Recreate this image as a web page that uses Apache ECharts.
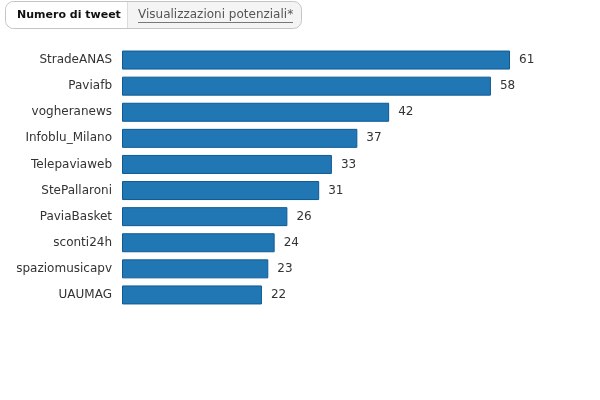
<!DOCTYPE html>
<html>
<head>
<meta charset="utf-8">
<script src="https://cdn.jsdelivr.net/npm/echarts@6/dist/echarts.min.js"></script>
<style>
  html,body{margin:0;padding:0;background:#fff;}
  #main{width:600px;height:400px;}
</style>
</head>
<body>
<div id="main"></div>
<script>
// dati
var utenti = ['StradeANAS','Paviafb','vogheranews','Infoblu_Milano','Telepaviaweb','StePallaroni','PaviaBasket','sconti24h','spaziomusicapv','UAUMAG'];
var tweet = [61,58,42,37,33,31,26,24,23,22];
var schede = ['Numero di tweet','Visualizzazioni potenziali*'];

var myChart = echarts.init(document.getElementById('main'));
var font = 'DejaVu Sans';

var option = {
  animation: false,
  textStyle: { fontFamily: font },
  grid: { left: 122, top: 47, width: 388, height: 261 },
  xAxis: { type: 'value', min: 0, max: 61, show: false },
  yAxis: {
    type: 'category',
    data: utenti,
    inverse: true,
    axisLine: { show: false },
    axisTick: { show: false },
    axisLabel: { color: '#333', fontSize: 12, fontFamily: font, margin: 10, padding: [2, 0, 0, 0] }
  },
  graphic: [
    // contenitore schede
    { type: 'rect', shape: { x: 5.5, y: 1.5, width: 296, height: 27, r: 8 },
      style: { fill: '#f4f4f4', stroke: '#c4c4c4', lineWidth: 1 } },
    { type: 'rect', shape: { x: 6, y: 2, width: 121, height: 26, r: [8,0,0,8] },
      style: { fill: '#fff' } },
    { type: 'line', shape: { x1: 127.5, y1: 2, x2: 127.5, y2: 28 },
      style: { stroke: '#dcdcdc', lineWidth: 1 } },
    { type: 'text', left: 17, top: 10,
      style: { text: schede[0], font: 'bold 11px ' + font, fill: '#111' } },
    { type: 'text', left: 138, top: 9,
      style: { text: schede[1], font: '12px ' + font, fill: '#555' } },
    { type: 'line', shape: { x1: 138, y1: 22.5, x2: 293, y2: 22.5 },
      style: { stroke: '#777', lineWidth: 1 } }
  ],
  series: [{
    name: 'Numero di tweet',
    type: 'bar',
    data: tweet,
    barWidth: 19,
    itemStyle: { color: '#2077b4', borderColor: '#0e5a94', borderWidth: 1 },
    label: { show: true, position: 'right', distance: 9, color: '#333', fontSize: 12, fontFamily: font, padding: [2, 0, 0, 0] }
  }]
};
myChart.setOption(option);
</script>
</body>
</html>
